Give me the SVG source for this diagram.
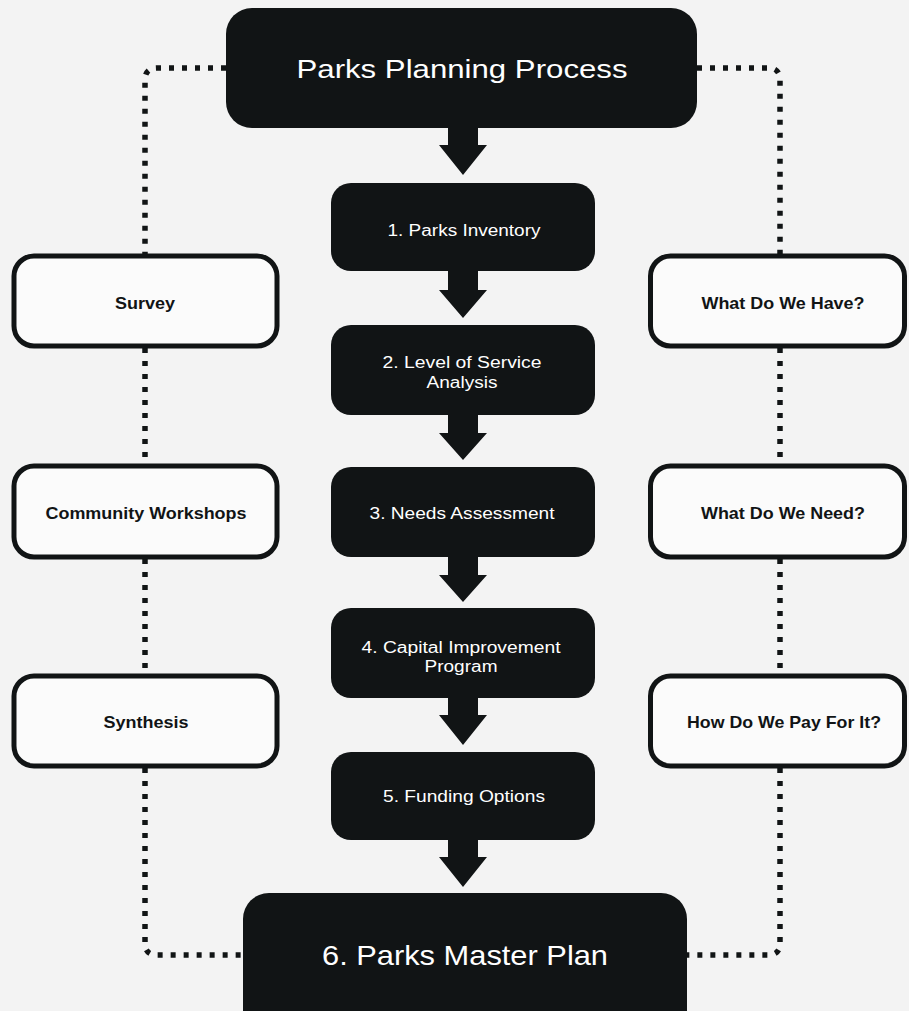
<svg xmlns="http://www.w3.org/2000/svg" width="909" height="1011" viewBox="0 0 909 1011">
<style>
.bg{fill:#f3f3f3}
.dark{fill:#111415}
.light{fill:#fbfbfb;stroke:#111415;stroke-width:5}
.dot{fill:none;stroke:#111415;stroke-width:5.5;stroke-dasharray:5 8}
.arrow{fill:#111415}
text{font-family:"Liberation Sans",Arial,Helvetica,sans-serif;text-anchor:middle}
.tw{fill:#ffffff}
.tb{fill:#111415;font-weight:bold;font-size:17px}
.big{font-size:25px}
.huge{font-size:28px}
.mid{font-size:16px}
</style>
<rect class="bg" x="0" y="0" width="909" height="1011"/>
<g id="connectors">
  <path class="dot" d="M 226 68 H 157 Q 145 68 145 80 V 256"/>
  <path class="dot" d="M 145 348 V 466"/>
  <path class="dot" d="M 145 559 V 676"/>
  <path class="dot" d="M 145 768 V 943 Q 145 955 157 955 H 243"/>
  <path class="dot" d="M 697 68 H 768 Q 780 68 780 80 V 256"/>
  <path class="dot" d="M 780 348 V 466"/>
  <path class="dot" d="M 780 559 V 676"/>
  <path class="dot" d="M 780 768 V 943 Q 780 955 768 955 H 687"/>
  <polygon class="arrow" points="448,126 478,126 478,145 487,145 463,175 439,145 448,145"/>
  <polygon class="arrow" points="448,268 478,268 478,290 487,290 463,318 439,290 448,290"/>
  <polygon class="arrow" points="448,412 478,412 478,433 487,433 463,460 439,433 448,433"/>
  <polygon class="arrow" points="448,554 478,554 478,575 487,575 463,602 439,575 448,575"/>
  <polygon class="arrow" points="448,695 478,695 478,715 487,715 463,745 439,715 448,715"/>
  <polygon class="arrow" points="448,837 478,837 478,857 487,857 463,887 439,857 448,857"/>
</g>
<g id="node-top">
  <rect class="dark" x="226" y="8" width="471" height="120" rx="26"/>
  <text class="tw big" x="462" y="78" textLength="331" lengthAdjust="spacingAndGlyphs">Parks Planning Process</text>
</g>
<g id="node-1">
  <rect class="dark" x="331" y="183" width="264" height="88" rx="20"/>
  <text class="tw mid" x="464" y="236" textLength="153" lengthAdjust="spacingAndGlyphs">1. Parks Inventory</text>
</g>
<g id="node-2">
  <rect class="dark" x="331" y="325" width="264" height="90" rx="20"/>
  <text class="tw mid" x="462" y="368" textLength="159" lengthAdjust="spacingAndGlyphs">2. Level of Service</text>
  <text class="tw mid" x="462" y="388" textLength="71" lengthAdjust="spacingAndGlyphs">Analysis</text>
</g>
<g id="node-3">
  <rect class="dark" x="331" y="467" width="264" height="90" rx="20"/>
  <text class="tw mid" x="462" y="519" textLength="185" lengthAdjust="spacingAndGlyphs">3. Needs Assessment</text>
</g>
<g id="node-4">
  <rect class="dark" x="331" y="608" width="264" height="90" rx="20"/>
  <text class="tw mid" x="461" y="653" textLength="199" lengthAdjust="spacingAndGlyphs">4. Capital Improvement</text>
  <text class="tw mid" x="461" y="672" textLength="73" lengthAdjust="spacingAndGlyphs">Program</text>
</g>
<g id="node-5">
  <rect class="dark" x="331" y="752" width="264" height="88" rx="20"/>
  <text class="tw mid" x="464" y="802" textLength="162" lengthAdjust="spacingAndGlyphs">5. Funding Options</text>
</g>
<g id="node-6">
  <rect class="dark" x="243" y="893" width="444" height="150" rx="26"/>
  <text class="tw huge" x="465" y="965" textLength="286" lengthAdjust="spacingAndGlyphs">6. Parks Master Plan</text>
</g>
<g id="node-survey">
  <rect class="light" x="14" y="256" width="263" height="90" rx="20"/>
  <text class="tb" x="145" y="309" textLength="60" lengthAdjust="spacingAndGlyphs">Survey</text>
</g>
<g id="node-workshops">
  <rect class="light" x="14" y="466" width="263" height="91" rx="20"/>
  <text class="tb" x="146" y="519" textLength="201" lengthAdjust="spacingAndGlyphs">Community Workshops</text>
</g>
<g id="node-synthesis">
  <rect class="light" x="14" y="676" width="263" height="90" rx="20"/>
  <text class="tb" x="146" y="728" textLength="85" lengthAdjust="spacingAndGlyphs">Synthesis</text>
</g>
<g id="node-have">
  <rect class="light" x="650.5" y="256" width="254" height="90" rx="20"/>
  <text class="tb" x="783" y="309" textLength="163" lengthAdjust="spacingAndGlyphs">What Do We Have?</text>
</g>
<g id="node-need">
  <rect class="light" x="650.5" y="466" width="254" height="91" rx="20"/>
  <text class="tb" x="783" y="519" textLength="164" lengthAdjust="spacingAndGlyphs">What Do We Need?</text>
</g>
<g id="node-pay">
  <rect class="light" x="650.5" y="676" width="254" height="90" rx="20"/>
  <text class="tb" x="784" y="728" textLength="194" lengthAdjust="spacingAndGlyphs">How Do We Pay For It?</text>
</g>
</svg>
